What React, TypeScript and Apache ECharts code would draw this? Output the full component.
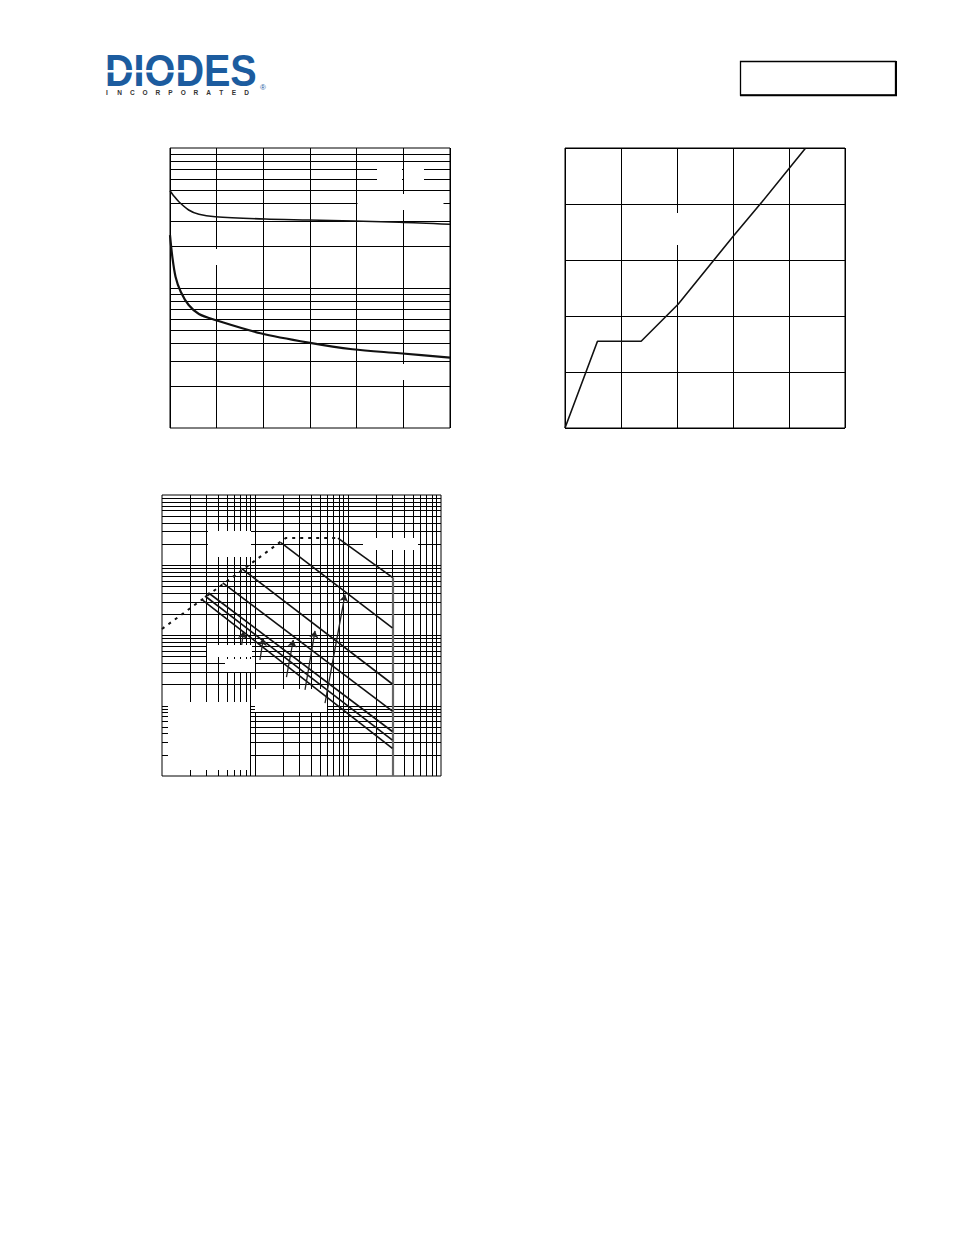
import React, { useEffect, useRef } from "react";
import * as echarts from "echarts";

// ---------- Chart 1 (top left): linear x, log y (1..100) ----------
const c1XTicks = [0, 1, 2, 3, 4, 5, 6];
const c1YDecades = [1, 10];
const upperCurve = [
  [0, 49.5], [0.08, 45.5], [0.19, 41.3], [0.4, 36.1], [0.62, 33.6], [0.97, 32.3],
  [2.04, 31.1], [2.97, 30.6], [4.92, 29.5], [6, 28.5],
];
const lowerCurve = [
  [0, 23.9], [0.05, 16.7], [0.12, 12.0], [0.23, 9.4], [0.4, 7.56],
  [0.62, 6.52], [0.97, 5.91], [1.94, 4.75], [2.97, 4.07], [3.91, 3.65],
  [4.92, 3.42], [6, 3.18],
];

// ---------- Chart 2 (top right): gate charge ----------
const c2XTicks = [0, 1, 2, 3, 4, 5];
const c2YTicks = [0, 1, 2, 3, 4, 5];
const gateCharge = [
  [0, 0], [0.58, 1.55], [1.36, 1.55], [2.02, 2.21], [3.0, 3.42], [3.52, 4.04], [4.29, 4.99],
];

// ---------- Chart 3 (bottom left): SOA, log-log ----------
const soaXDecades = [0.1, 1, 10];
const soaYDecades = [0.01, 0.1, 1, 10];
const soaRdsLimit = [[0.1, 1.24], [2.14, 24.4], [7.8, 24.4]];
const soaPowerLines = [
  [[7.8, 24.4], [30, 6.7]],
  [[1.9, 21], [30, 1.28]],
  [[0.71, 9.1], [30, 0.204]],
  [[0.45, 5.6], [30, 0.084]],
  [[0.315, 4.06], [30, 0.043]],
  [[0.29, 3.65], [30, 0.0325]],
  [[0.267, 3.27], [30, 0.0248]],
];
const soaVdsLimit = [[30, 6.7], [30, 0.01]];
const soaArrows = [
  [[5.66, 0.109], [9.29, 3.81]],
  [[3.45, 0.168], [4.42, 1.16]],
  [[2.18, 0.256], [2.58, 0.863]],
  [[1.13, 0.448], [1.23, 0.906]],
  [[0.719, 0.733], [0.752, 1.14]],
];
const logMantissas = [1, 2, 3, 4, 5, 6, 7, 8, 9];

const incLetters = ["I", "N", "C", "O", "R", "P", "O", "R", "A", "T", "E", "D"];

function logGridValues(decades: number[], skipFirst: boolean) {
  const out: number[] = [];
  decades.forEach((d, di) =>
    logMantissas.forEach((m, mi) => {
      if (skipFirst && di === 0 && mi === 0) return;
      out.push(+(d * m).toPrecision(6));
    })
  );
  return out;
}

const hiddenAxis = {
  axisLabel: { show: false },
  axisTick: { show: false },
  axisLine: { show: false },
};
const gridLineStyle = { color: "#000", width: 1 };

export default function App() {
  const ref = useRef<HTMLDivElement>(null);
  useEffect(() => {
    const chart = echarts.init(ref.current!, null, { renderer: "svg" });

    const c1YGrid = logGridValues(c1YDecades, true);
    const soaXGrid = logGridValues(soaXDecades, true);
    const soaYGrid = logGridValues(soaYDecades, true);

    const whiteBox = (x: number, y: number, w: number, h: number) => ({
      type: "rect",
      z: 3,
      shape: { x, y, width: w, height: h },
      style: { fill: "#fff" },
      silent: true,
    });

    const option: any = {
      animation: false,
      backgroundColor: "#fff",
      grid: [
        { left: 170, top: 148, width: 280, height: 280, show: true, borderColor: "#000", borderWidth: 1, backgroundColor: "transparent" },
        { left: 565, top: 148, width: 280, height: 280, show: true, borderColor: "#000", borderWidth: 1, backgroundColor: "transparent" },
        { left: 162, top: 495, width: 279, height: 281, show: true, borderColor: "#000", borderWidth: 1, backgroundColor: "transparent" },
      ],
      xAxis: [
        { gridIndex: 0, type: "value", min: c1XTicks[0], max: c1XTicks[c1XTicks.length - 1], interval: 1, ...hiddenAxis, splitLine: { show: true, lineStyle: gridLineStyle } },
        { gridIndex: 1, type: "value", min: c2XTicks[0], max: c2XTicks[c2XTicks.length - 1], interval: 1, ...hiddenAxis, splitLine: { show: true, lineStyle: gridLineStyle } },
        { gridIndex: 2, type: "log", logBase: 10, min: 0.1, max: 100, ...hiddenAxis, splitLine: { show: false } },
      ],
      yAxis: [
        { gridIndex: 0, type: "log", logBase: 10, min: 1, max: 100, ...hiddenAxis, splitLine: { show: false } },
        { gridIndex: 1, type: "value", min: c2YTicks[0], max: c2YTicks[c2YTicks.length - 1], interval: 1, ...hiddenAxis, splitLine: { show: true, lineStyle: gridLineStyle } },
        { gridIndex: 2, type: "log", logBase: 10, min: 0.01, max: 100, ...hiddenAxis, splitLine: { show: false } },
      ],
      series: [
        // chart 1 log grid
        {
          type: "lines", coordinateSystem: "cartesian2d", xAxisIndex: 0, yAxisIndex: 0, z: 1, silent: true,
          lineStyle: { color: "#000", width: 1, opacity: 1, curveness: 0 },
          data: c1YGrid.filter((v) => v < 100).map((v) => ({ coords: [[0, v], [6, v]] })),
        },
        // chart 3 log grid
        {
          type: "lines", coordinateSystem: "cartesian2d", xAxisIndex: 2, yAxisIndex: 2, z: 1, silent: true,
          lineStyle: { color: "#000", width: 1, opacity: 1, curveness: 0 },
          data: [
            ...soaXGrid.map((v) => ({ coords: [[v, 0.01], [v, 100]] })),
            ...soaYGrid.map((v) => ({ coords: [[0.1, v], [100, v]] })),
          ],
        },
        // chart 1 curves
        {
          type: "line", xAxisIndex: 0, yAxisIndex: 0, z: 10, data: upperCurve, showSymbol: false,
          smooth: 0.3, lineStyle: { color: "#111", width: 1.6 },
        },
        {
          type: "line", xAxisIndex: 0, yAxisIndex: 0, z: 10, data: lowerCurve, showSymbol: false,
          smooth: 0.3, lineStyle: { color: "#111", width: 2.2 },
        },
        // chart 2
        {
          type: "line", xAxisIndex: 1, yAxisIndex: 1, z: 10, data: gateCharge, showSymbol: false,
          lineStyle: { color: "#111", width: 1.6 },
        },
        // chart 3 RDS(on) limit dashed
        {
          type: "line", xAxisIndex: 2, yAxisIndex: 2, z: 10, data: soaRdsLimit, showSymbol: false,
          lineStyle: { color: "#111", width: 2, type: [3, 5] },
        },
        // chart 3 power lines
        {
          type: "lines", coordinateSystem: "cartesian2d", xAxisIndex: 2, yAxisIndex: 2, z: 10, silent: true,
          lineStyle: { color: "#111", width: 1.6, opacity: 1, curveness: 0 },
          data: soaPowerLines.map((c) => ({ coords: c })),
        },
        // chart 3 Vds limit
        {
          type: "lines", coordinateSystem: "cartesian2d", xAxisIndex: 2, yAxisIndex: 2, z: 9, silent: true,
          lineStyle: { color: "#666", width: 2.2, opacity: 1, curveness: 0 },
          data: [{ coords: soaVdsLimit }],
        },
        // chart 3 arrows
        {
          type: "lines", coordinateSystem: "cartesian2d", xAxisIndex: 2, yAxisIndex: 2, z: 11, silent: true,
          symbol: ["none", "arrow"], symbolSize: 7,
          lineStyle: { color: "#222", width: 1.3, opacity: 1, curveness: 0 },
          data: soaArrows.map((c) => ({ coords: c })),
        },
      ],
      graphic: [
        // chart 1 label erasures
        whiteBox(377, 164, 25, 22),
        whiteBox(404, 164, 20, 22),
        whiteBox(357.5, 194, 86, 16),
        whiteBox(195, 249, 40, 16),
        whiteBox(388, 364, 30, 16),
        // chart 2 label erasure
        whiteBox(655, 213, 45, 32),
        // chart 3 label erasures
        whiteBox(208, 531, 43, 26),
        whiteBox(363, 538, 55, 12),
        whiteBox(168, 702, 82, 68),
        whiteBox(207, 645, 45, 12),
        whiteBox(225, 659, 30, 13),
        whiteBox(255, 689, 72, 23),
        // logo
        {
          type: "text", x: 105, y: 71, scaleX: 0.9, z: 5,
          style: { text: "DIODES", x: 0, y: 0, fill: "#1c5c9f", font: "bold 44px 'Liberation Sans', Arial, sans-serif", align: "left", verticalAlign: "middle" },
        },
        { type: "rect", z: 6, shape: { x: 105, y: 70, width: 88, height: 2.5 }, style: { fill: "#fff" } },
        ...incLetters.map((ch, i) => ({
          type: "text", x: 107 + i * 12.7, y: 92, z: 5,
          style: { text: ch, fill: "#333", font: "bold 6.5px 'Liberation Sans', Arial, sans-serif", align: "center", verticalAlign: "middle" },
        })),
        {
          type: "text", x: 263, y: 87, z: 5,
          style: { text: "®", fill: "#1c5c9f", font: "8px 'Liberation Sans', Arial, sans-serif", align: "center", verticalAlign: "middle" },
        },
        // top-right box
        { type: "rect", z: 5, shape: { x: 740.5, y: 61.5, width: 155, height: 33.5 }, style: { fill: "none", stroke: "#000", lineWidth: 1.3 } },
        { type: "line", z: 5, shape: { x1: 896, y1: 61, x2: 896, y2: 96 }, style: { stroke: "#000", lineWidth: 2 } },
        { type: "line", z: 5, shape: { x1: 740, y1: 95.5, x2: 897, y2: 95.5 }, style: { stroke: "#000", lineWidth: 1.5 } },
      ],
    };
    chart.setOption(option);
    return () => chart.dispose();
  }, []);
  return (
    <div
      ref={ref}
      style={{ position: "absolute", left: 0, top: 0, width: 954, height: 1235, background: "#fff" }}
    />
  );
}
